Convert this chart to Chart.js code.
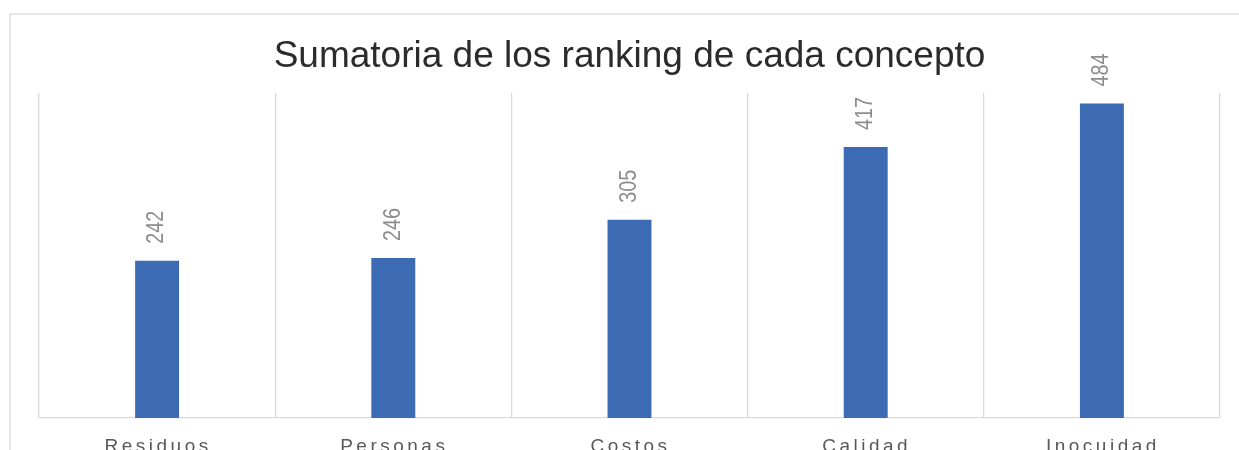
<!DOCTYPE html>
<html>
<head>
<meta charset="utf-8">
<script src="https://cdn.jsdelivr.net/npm/chart.js@4/dist/chart.umd.min.js"></script>
<style>
  html, body { margin: 0; padding: 0; overflow: hidden; background: #fff; }
</style>
</head>
<body>
<canvas id="myChart" width="1239" height="480"></canvas>
<script>
  'use strict'

  var categories = ['Residuos', 'Personas', 'Costos', 'Calidad', 'Inocuidad']
  var totals = [242, 246, 305, 417, 484]
  var chartTitle = 'Sumatoria de los ranking de cada concepto'

  // outer frame of the chart box (only top and left edges are in view)
  var frame = {
    id: 'frame',
    beforeDraw: function (chart) {
      var c = chart.ctx
      c.save()
      c.strokeStyle = '#dedede'
      c.lineWidth = 1.5
      c.beginPath()
      c.moveTo(10, 500)
      c.lineTo(10, 14)
      c.lineTo(1239, 14)
      c.stroke()
      c.restore()
    }
  }

  // rotated value labels + spaced category labels
  var labels = {
    id: 'labels',
    afterDatasetsDraw: function (chart) {
      var c = chart.ctx
      var meta = chart.getDatasetMeta(0)
      c.save()
      c.fillStyle = '#8e8e8e'
      c.font = '23px "Liberation Sans", Arial, sans-serif'
      c.textAlign = 'left'
      c.textBaseline = 'middle'
      meta.data.forEach(function (bar, i) {
        c.save()
        c.translate(bar.x, bar.y - 17)
        c.rotate(-Math.PI / 2)
        c.scale(0.86, 1)
        c.fillText(String(totals[i]), 0, 0)
        c.restore()
      })
      var x = chart.scales.x
      c.fillStyle = '#595959'
      c.font = '19px "Liberation Sans", Arial, sans-serif'
      c.letterSpacing = '3.5px'
      c.textAlign = 'center'
      c.textBaseline = 'alphabetic'
      categories.forEach(function (name, i) {
        c.fillText(name, x.getPixelForValue(i) + 1, 452)
      })
      c.restore()
    }
  }

  var ctx = document.getElementById('myChart')
  const config = {
    type: 'bar',
    data: {
      labels: categories,
      datasets: [{
        label: 'Total',
        data: totals,
        backgroundColor: '#3d6bb3',
        borderWidth: 0,
        barPercentage: 0.186,
        categoryPercentage: 1
      }]
    },
    options: {
      responsive: false,
      animation: false,
      devicePixelRatio: 1,
      layout: {
        padding: { left: 39, right: 19, top: 0, bottom: 0 }
      },
      scales: {
        x: {
          grid: { color: '#d9d9d9', lineWidth: 1.3, drawTicks: false },
          border: { color: '#d9d9d9', width: 1.3 },
          ticks: { display: false },
          afterFit: function (scale) { scale.height = 62 }
        },
        y: {
          display: false,
          min: 0,
          max: 500
        }
      },
      plugins: {
        legend: { display: false },
        tooltip: { enabled: false },
        title: {
          display: true,
          text: chartTitle,
          color: '#2b2b2b',
          font: { family: '"Liberation Sans", Arial, sans-serif', size: 37, weight: 'normal', lineHeight: 1.2 },
          padding: { top: 35, bottom: 13.6 }
        }
      }
    },
    plugins: [frame, labels]
  }
  var barChart = new Chart(ctx, config)
</script>
</body>
</html>
